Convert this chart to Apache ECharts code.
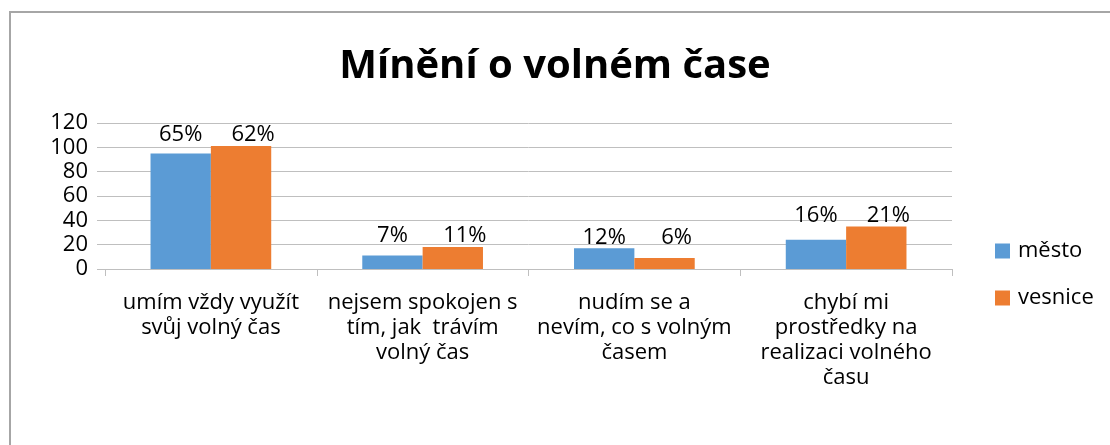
<!DOCTYPE html>
<html>
<head>
    <meta charset="UTF-8">
    <title>Mínění o volném čase</title>
    <script type="text/javascript" src="https://cdn.jsdelivr.net/npm/echarts@6/dist/echarts.min.js"></script>
    <style>
        html, body { margin: 0; padding: 0; background: #ffffff; }
    </style>
</head>
<body>
<div id="main" style="width: 1110px;height:445px;"></div>
<script type="text/javascript">
    // data
    var categories = [
        'umím vždy využít\nsvůj volný čas',
        'nejsem spokojen s\ntím, jak  trávím\nvolný čas',
        'nudím se a\nnevím, co s volným\nčasem',
        'chybí mi\nprostředky na\nrealizaci volného\nčasu'
    ];
    var mesto = [95, 11, 17, 24];
    var vesnice = [101, 18, 9, 35];
    // the labels show percentages, not the bar values
    var mestoPct = [65, 7, 12, 16];
    var vesnicePct = [62, 11, 6, 21];
    var yMin = 0, yMax = 120, yStep = 20;

    var font = '"Open Sans", "Noto Sans", sans-serif';
    var gridColor = '#bfbfbf';

    var myChart = echarts.init(document.getElementById('main'));

    var option = {
        backgroundColor: '#ffffff',
        animation: false,
        textStyle: { fontFamily: font },
        title: {
            text: 'Mínění o volném čase',
            left: 'center',
            top: 42,
            textStyle: { fontSize: 40, fontWeight: 'bold', color: '#000000', fontFamily: font }
        },
        graphic: [{
            type: 'rect',
            shape: { x: 10, y: 12, width: 1120, height: 460 },
            style: { fill: 'none', stroke: '#a6a6a6', lineWidth: 2 },
            silent: true
        }],
        legend: {
            orient: 'vertical',
            left: 990,
            top: 235,
            itemWidth: 15,
            itemHeight: 15,
            itemGap: 25,
            icon: 'rect',
            textStyle: { fontSize: 22, color: '#000000', fontFamily: font, padding: [0, 0, 0, 3] },
            data: ['město', 'vesnice']
        },
        grid: { left: 105, right: 158, top: 123, bottom: 176 },
        xAxis: {
            type: 'category',
            data: categories,
            axisLine: { lineStyle: { color: gridColor, width: 1 } },
            axisTick: { show: true, length: 7, interval: 0, lineStyle: { color: gridColor } },
            axisLabel: {
                interval: 0,
                margin: 21,
                fontSize: 22,
                lineHeight: 25,
                color: '#000000',
                fontFamily: font
            }
        },
        yAxis: {
            type: 'value',
            min: yMin,
            max: yMax,
            interval: yStep,
            axisLine: { show: false },
            axisTick: { show: true, length: 8, lineStyle: { color: gridColor } },
            splitLine: { lineStyle: { color: gridColor, width: 1 } },
            axisLabel: { margin: 17, fontSize: 22, color: '#000000', fontFamily: font }
        },
        series: [
            {
                name: 'město',
                type: 'bar',
                data: mesto,
                barGap: '0%',
                barCategoryGap: '43%',
                itemStyle: { color: '#5b9bd5' },
                label: {
                    show: true,
                    position: 'top',
                    distance: 0,
                    fontSize: 22,
                    color: '#000000',
                    fontFamily: font,
                    formatter: function (p) { return mestoPct[p.dataIndex] + '%'; }
                }
            },
            {
                name: 'vesnice',
                type: 'bar',
                data: vesnice,
                itemStyle: { color: '#ed7d31' },
                label: {
                    show: true,
                    position: 'top',
                    distance: 0,
                    fontSize: 22,
                    color: '#000000',
                    fontFamily: font,
                    formatter: function (p) { return vesnicePct[p.dataIndex] + '%'; }
                }
            }
        ]
    };

    myChart.setOption(option);

    // the labels of one category sit on one line above the taller bar
    function lift(values) {
        return values.map(function (v, i) {
            var top = Math.max(mesto[i], vesnice[i]);
            var py = myChart.convertToPixel({ yAxisIndex: 0 }, v);
            var pt = myChart.convertToPixel({ yAxisIndex: 0 }, top);
            return pt - py;
        });
    }
    var liftM = lift(mesto);
    var liftV = lift(vesnice);

    myChart.setOption({
        series: [
            {
                data: mesto.map(function (v, i) {
                    return { value: v, label: { offset: [0, liftM[i]] } };
                })
            },
            {
                data: vesnice.map(function (v, i) {
                    return { value: v, label: { offset: [12, liftV[i]] } };
                })
            }
        ]
    });
</script>
</body>
</html>
